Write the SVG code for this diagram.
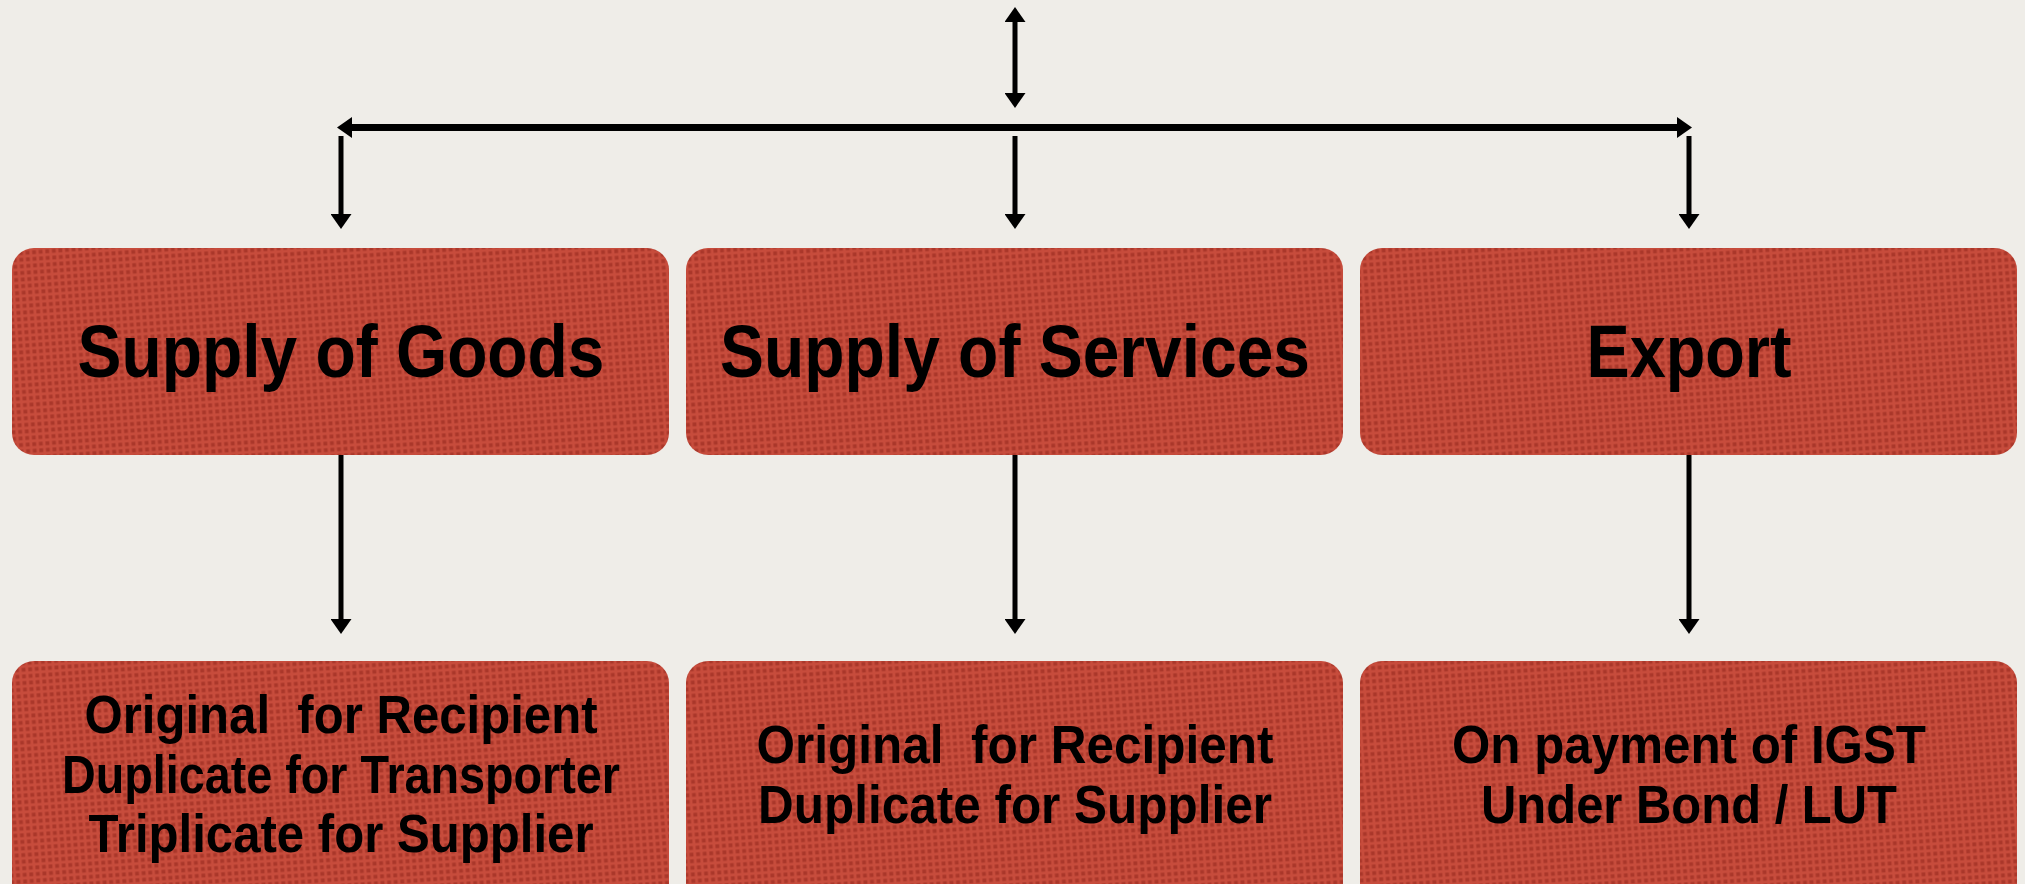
<svg xmlns="http://www.w3.org/2000/svg" width="2025" height="884" viewBox="0 0 2025 884">
  <defs>
    <!-- halftone dot texture for the red boxes -->
    <pattern id="dots" width="6.6" height="6.6" patternUnits="userSpaceOnUse" patternTransform="rotate(-4)">
      <rect width="6.6" height="6.6" fill="#c74c3c"/>
      <rect x="1.3" y="1.3" width="3.8" height="3.8" fill="#aa372a"/>
    </pattern>
    <marker id="head" viewBox="0 0 15 21" refX="0" refY="10.5" markerWidth="15" markerHeight="21" markerUnits="userSpaceOnUse" orient="auto-start-reverse">
      <path d="M0,0 L15,10.5 L0,21 Z" fill="#000"/>
    </marker>
  </defs>
  <style>
    .box { fill: url(#dots); }
    .title { font-family: "Liberation Sans", Arial, Helvetica, sans-serif; font-weight: bold; font-size: 74px; fill: #000; text-anchor: middle; }
    .item { font-family: "Liberation Sans", Arial, Helvetica, sans-serif; font-weight: bold; font-size: 54px; fill: #000; text-anchor: middle; }
    .wire { stroke: #000; stroke-width: 5; fill: none; marker-end: url(#head); }
    .both { marker-start: url(#head); }
    .bus { stroke-width: 7; }
  </style>

  <!-- paper background -->
  <rect width="2025" height="884" fill="#efede8"/>

  <g id="connectors">
    <path class="wire both" d="M1015,22 L1015,93"/>
    <path class="wire both bus" d="M352,127.5 L1677,127.5"/>
    <path class="wire" d="M341,136 L341,214"/>
    <path class="wire" d="M1015,136 L1015,214"/>
    <path class="wire" d="M1689,136 L1689,214"/>
    <path class="wire" d="M341,455 L341,619"/>
    <path class="wire" d="M1015,455 L1015,619"/>
    <path class="wire" d="M1689,455 L1689,619"/>
  </g>

  <g id="supply-goods">
    <rect class="box" x="12" y="248" width="657" height="207" rx="22"/>
    <text class="title" x="341" y="377" textLength="527" lengthAdjust="spacingAndGlyphs">Supply of Goods</text>
  </g>
  <g id="supply-services">
    <rect class="box" x="686" y="248" width="657" height="207" rx="22"/>
    <text class="title" x="1015" y="377" textLength="590" lengthAdjust="spacingAndGlyphs">Supply of Services</text>
  </g>
  <g id="export">
    <rect class="box" x="1360" y="248" width="657" height="207" rx="22"/>
    <text class="title" x="1689" y="377" textLength="205" lengthAdjust="spacingAndGlyphs">Export</text>
  </g>

  <g id="goods-copies">
    <rect class="box" x="12" y="661" width="657" height="260" rx="22"/>
    <text class="item" x="341" y="733" textLength="513" lengthAdjust="spacingAndGlyphs" xml:space="preserve">Original  for Recipient</text>
    <text class="item" x="341" y="793" textLength="558" lengthAdjust="spacingAndGlyphs">Duplicate for Transporter</text>
    <text class="item" x="341" y="852" textLength="505" lengthAdjust="spacingAndGlyphs">Triplicate for Supplier</text>
  </g>
  <g id="services-copies">
    <rect class="box" x="686" y="661" width="657" height="260" rx="22"/>
    <text class="item" x="1015" y="763" textLength="517" lengthAdjust="spacingAndGlyphs" xml:space="preserve">Original  for Recipient</text>
    <text class="item" x="1015" y="823" textLength="514" lengthAdjust="spacingAndGlyphs">Duplicate for Supplier</text>
  </g>
  <g id="export-modes">
    <rect class="box" x="1360" y="661" width="657" height="260" rx="22"/>
    <text class="item" x="1689" y="763" textLength="474" lengthAdjust="spacingAndGlyphs">On payment of IGST</text>
    <text class="item" x="1689" y="823" textLength="416" lengthAdjust="spacingAndGlyphs">Under Bond / LUT</text>
  </g>
</svg>
